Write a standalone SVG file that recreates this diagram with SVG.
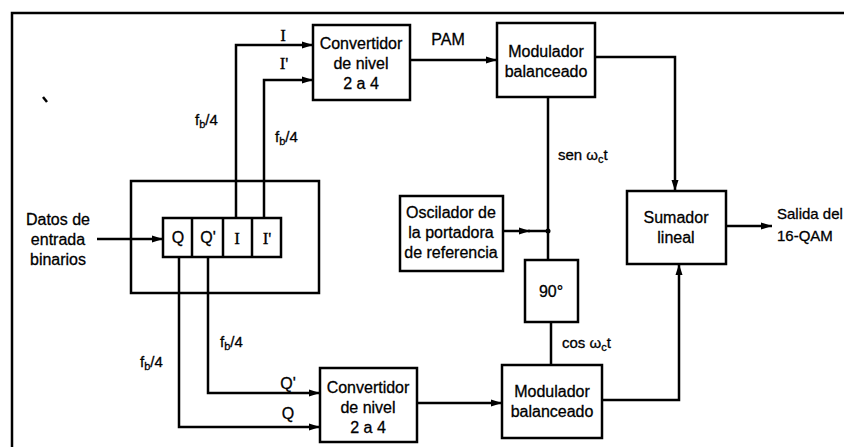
<svg xmlns="http://www.w3.org/2000/svg" width="844" height="447" viewBox="0 0 844 447">
<style>
.box{fill:#fff;stroke:#000;stroke-width:2.5}
.ln{fill:none;stroke:#000;stroke-width:2.5}
.t{font-family:"Liberation Sans",Arial,sans-serif;font-size:16px;fill:#000;stroke:#000;stroke-width:0.3;text-anchor:middle}
.ts{font-family:"Liberation Sans",Arial,sans-serif;font-size:15px;fill:#000;stroke:#000;stroke-width:0.3}
.s{font-family:"Liberation Serif","Times New Roman",serif;font-size:17px;fill:#000;stroke:#000;stroke-width:0.3;text-anchor:middle}
</style>
<defs>
<marker id="ar" markerUnits="userSpaceOnUse" markerWidth="12" markerHeight="8" refX="11" refY="4" orient="auto">
<path d="M0,0.5 L11,4 L0,7.5 Z" fill="#000"/>
</marker>
</defs>
<rect width="844" height="447" fill="#fff"/>
<g id="frame">
<path class="ln" d="M12,447 V13 H844" stroke-width="3"/>
<path d="M43,97 L47,102" stroke="#000" stroke-width="2.5"/>
</g>
<g id="connectors">
<path class="ln" d="M97,239 H163" marker-end="url(#ar)"/>
<path class="ln" d="M236,218 V45 H313" marker-end="url(#ar)"/>
<path class="ln" d="M264,218 V80 H313" marker-end="url(#ar)"/>
<path class="ln" d="M179,257 V427 H320" marker-end="url(#ar)"/>
<path class="ln" d="M208,257 V393 H320" marker-end="url(#ar)"/>
<path class="ln" d="M410,60 H497" marker-end="url(#ar)"/>
<path class="ln" d="M595,57 H675 V191" marker-end="url(#ar)"/>
<path class="ln" d="M548,97 V260"/>
<path class="ln" d="M503,231 H530" marker-end="url(#ar)"/>
<path class="ln" d="M528,231 H548"/>
<circle cx="548" cy="231" r="2.5" fill="#000"/>
<path class="ln" d="M551,322 V365"/>
<path class="ln" d="M417,403 H502" marker-end="url(#ar)"/>
<path class="ln" d="M602,400 H679 V264" marker-end="url(#ar)"/>
<path class="ln" d="M726,226 H772" marker-end="url(#ar)"/>
</g>
<g id="labels">
<text class="s" x="283" y="41">I</text>
<text class="s" x="284" y="69">I'</text>
<text class="ts" x="195" y="125">f<tspan font-size="11" dy="3">b</tspan><tspan dy="-3">/4</tspan></text>
<text class="ts" x="275" y="142">f<tspan font-size="11" dy="3">b</tspan><tspan dy="-3">/4</tspan></text>
<text class="ts" x="220" y="347">f<tspan font-size="11" dy="3">b</tspan><tspan dy="-3">/4</tspan></text>
<text class="ts" x="140" y="367">f<tspan font-size="11" dy="3">b</tspan><tspan dy="-3">/4</tspan></text>
<text class="t" x="288" y="389">Q'</text>
<text class="t" x="288" y="419">Q</text>
<text class="t" x="448" y="45">PAM</text>
<text class="ts" x="558" y="160">sen ω<tspan font-size="11" dy="3">c</tspan><tspan dy="-3">t</tspan></text>
<text class="ts" x="562" y="348">cos ω<tspan font-size="11" dy="3">c</tspan><tspan dy="-3">t</tspan></text>
<text class="t" x="58" y="225">Datos de</text>
<text class="t" x="58" y="245">entrada</text>
<text class="t" x="58" y="265">binarios</text>
<text class="ts" x="777" y="219">Salida del</text>
<text class="ts" x="777" y="241">16-QAM</text>
</g>
<g id="register">
<rect x="131" y="181" width="188" height="112" fill="none" stroke="#000" stroke-width="2.5"/>
<rect class="box" x="163" y="218" width="118" height="39"/>
<path class="ln" d="M192,218 V257 M223,218 V257 M252,218 V257"/>
<text class="t" x="178" y="243">Q</text>
<text class="t" x="208" y="243">Q'</text>
<text class="s" x="237" y="244">I</text>
<text class="s" x="267" y="244">I'</text>
</g>
<g id="conv-top">
<rect class="box" x="313" y="25" width="97" height="75"/>
<text class="t" x="361" y="49">Convertidor</text>
<text class="t" x="361" y="69">de nivel</text>
<text class="t" x="361" y="89">2 a 4</text>
</g>
<g id="conv-bottom">
<rect class="box" x="320" y="368" width="97" height="74"/>
<text class="t" x="368" y="393">Convertidor</text>
<text class="t" x="368" y="413">de nivel</text>
<text class="t" x="368" y="433">2 a 4</text>
</g>
<g id="mod-top">
<rect class="box" x="497" y="23" width="98" height="74"/>
<text class="t" x="546" y="57">Modulador</text>
<text class="t" x="546" y="77">balanceado</text>
</g>
<g id="mod-bottom">
<rect class="box" x="502" y="365" width="100" height="73"/>
<text class="t" x="552" y="397">Modulador</text>
<text class="t" x="552" y="417">balanceado</text>
</g>
<g id="oscillator">
<rect class="box" x="400" y="196" width="103" height="75"/>
<text class="t" x="451" y="218">Oscilador de</text>
<text class="t" x="451" y="238">la portadora</text>
<text class="t" x="451" y="258">de referencia</text>
</g>
<g id="phase90">
<rect class="box" x="525" y="260" width="53" height="62"/>
<text class="t" x="551" y="297">90°</text>
</g>
<g id="sumador">
<rect class="box" x="627" y="191" width="99" height="73"/>
<text class="t" x="676" y="223">Sumador</text>
<text class="t" x="676" y="243">lineal</text>
</g>
</svg>
